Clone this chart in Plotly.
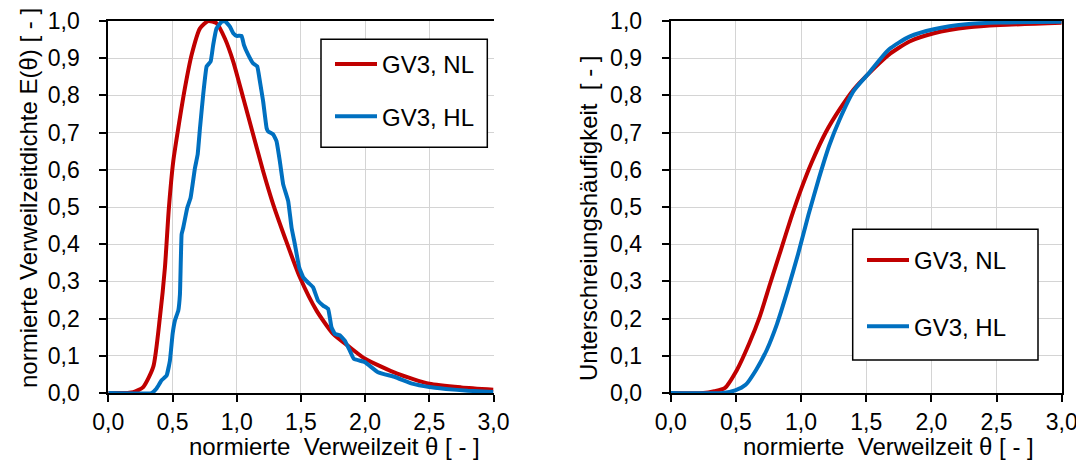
import plotly.graph_objects as go

# ---- data: left panel, residence time density E(theta) ----
nl_e_theta = [0.0, 0.15, 0.195, 0.272, 0.35, 0.402, 0.441, 0.472, 0.506, 0.545, 0.597, 0.649, 0.714,
              0.778, 0.843, 0.908, 0.973, 1.051, 1.128, 1.206, 1.284, 1.375, 1.492, 1.622, 1.751,
              1.881, 2.0, 2.25, 2.5, 2.75, 3.0]
nl_e_val = [0.0, 0.0, 0.002, 0.016, 0.07, 0.2035, 0.337, 0.498, 0.623, 0.712, 0.82, 0.909, 0.98,
            1.0, 0.994, 0.953, 0.891, 0.793, 0.695, 0.596, 0.507, 0.418, 0.311, 0.2215, 0.159,
            0.123, 0.092, 0.052, 0.025, 0.015, 0.009]

hl_e_theta = [0.0, 0.337, 0.376, 0.415, 0.454, 0.480, 0.501, 0.519, 0.545, 0.558, 0.571, 0.584,
              0.615, 0.641, 0.675, 0.696, 0.714, 0.739, 0.766, 0.797, 0.817, 0.843, 0.882, 0.908,
              0.947, 0.973, 0.999, 1.038, 1.056, 1.090, 1.128, 1.160, 1.181, 1.206, 1.233, 1.245,
              1.284, 1.310, 1.336, 1.362, 1.401, 1.427, 1.453, 1.487, 1.518, 1.556, 1.595, 1.634,
              1.673, 1.712, 1.738, 1.764, 1.803, 1.842, 1.881, 1.912, 1.998, 2.1, 2.233, 2.367,
              2.5, 2.63, 2.8, 3.0]
hl_e_val = [0.0, 0.0, 0.012, 0.034, 0.047, 0.0875, 0.159, 0.195, 0.2215, 0.266, 0.427, 0.445,
            0.498, 0.525, 0.605, 0.641, 0.712, 0.802, 0.878, 0.891, 0.936, 0.98, 0.998, 1.0,
            0.985, 0.967, 0.96, 0.96, 0.936, 0.909, 0.886, 0.878, 0.837, 0.784, 0.712, 0.703,
            0.695, 0.677, 0.623, 0.561, 0.516, 0.445, 0.40, 0.337, 0.311, 0.297, 0.284, 0.248,
            0.235, 0.226, 0.177, 0.159, 0.155, 0.141, 0.114, 0.092, 0.083, 0.056, 0.043, 0.025,
            0.016, 0.011, 0.006, 0.003]

# ---- data: right panel, cumulative distribution F(theta) ----
nl_f_theta = [0.0, 0.25, 0.335, 0.414, 0.508, 0.602, 0.682, 0.762, 0.842, 0.923, 1.003, 1.083,
              1.19, 1.297, 1.404, 1.511, 1.672, 1.832, 2.019, 2.287, 2.527, 3.0]
nl_f_val = [0.0, 0.0, 0.005, 0.013, 0.062, 0.133, 0.204, 0.293, 0.381, 0.47, 0.55, 0.621,
            0.701, 0.763, 0.816, 0.856, 0.909, 0.945, 0.967, 0.983, 0.989, 0.995]

hl_f_theta = [0.0, 0.40, 0.495, 0.575, 0.655, 0.736, 0.816, 0.896, 0.977, 1.057, 1.137, 1.217,
              1.297, 1.404, 1.511, 1.672, 1.832, 2.019, 2.287, 2.527, 3.0]
hl_f_val = [0.0, 0.0, 0.007, 0.022, 0.062, 0.115, 0.186, 0.275, 0.373, 0.479, 0.577, 0.666,
            0.736, 0.812, 0.856, 0.923, 0.958, 0.978, 0.992, 0.996, 0.998]

series_names = ["GV3, NL", "GV3, HL"]
x_ticks = [0.0, 0.5, 1.0, 1.5, 2.0, 2.5, 3.0]
y_ticks = [0.0, 0.1, 0.2, 0.3, 0.4, 0.5, 0.6, 0.7, 0.8, 0.9, 1.0]
x_title = "normierte  Verweilzeit θ [ - ]"
y_title_left = "normierte Verweilzeitdichte E(θ) [ - ]"
y_title_right = "Unterschreiungshäufigkeit  [ - ]"

RED = "#C00000"
BLUE = "#0070C0"
FONT = "Liberation Sans, Arial, sans-serif"
FS_TICK = 23
FS = 24
# the page body has an 8px margin, so the figure is sized to fit the window
OFF = 8
W, H = 1076, 452

fig = go.Figure()
fig.add_trace(go.Scatter(x=nl_e_theta, y=nl_e_val, mode="lines", name=series_names[0],
                         line=dict(color=RED, width=4, shape="spline", smoothing=0.6),
                         xaxis="x", yaxis="y", legend="legend", legendgroup="a"))
fig.add_trace(go.Scatter(x=hl_e_theta, y=hl_e_val, mode="lines", name=series_names[1],
                         line=dict(color=BLUE, width=4, shape="spline", smoothing=0.3),
                         xaxis="x", yaxis="y", legend="legend", legendgroup="b"))
fig.add_trace(go.Scatter(x=nl_f_theta, y=nl_f_val, mode="lines", name=series_names[0],
                         line=dict(color=RED, width=4, shape="spline", smoothing=0.6),
                         xaxis="x2", yaxis="y2", legend="legend2", legendgroup="c"))
fig.add_trace(go.Scatter(x=hl_f_theta, y=hl_f_val, mode="lines", name=series_names[1],
                         line=dict(color=BLUE, width=4, shape="spline", smoothing=0.6),
                         xaxis="x2", yaxis="y2", legend="legend2", legendgroup="d"))

def px_x(p):
    return (p - OFF) / W

def px_y(p):
    return 1 - (p - OFF) / H

y_dom = [px_y(393.0), px_y(21.0)]
axis_common = dict(showgrid=True, gridcolor="#D4D4D4", gridwidth=1, showline=True,
                   linecolor="black", linewidth=2, ticks="outside", ticklen=7, tickwidth=1.5,
                   tickcolor="black", zeroline=False, automargin=False,
                   ticklabeloverflow="allow",
                   tickfont=dict(family=FONT, size=FS_TICK, color="black"),
                   tickformat=".1f")

fig.update_layout(
    template="none",
    width=W, height=H, margin=dict(l=0, r=0, t=0, b=0, pad=0, autoexpand=False),
    paper_bgcolor="white", plot_bgcolor="white",
    separators=",.",
    font=dict(family=FONT, size=FS, color="black"),
    showlegend=True,
    xaxis=dict(domain=[px_x(108.3), px_x(493.5)], range=[0, 3], tickvals=x_ticks, anchor="y",
               mirror=True, **axis_common),
    yaxis=dict(domain=y_dom, range=[0, 1], tickvals=y_ticks, anchor="x", mirror=False,
               ticklabelstandoff=15, **axis_common),
    xaxis2=dict(domain=[px_x(670.7), px_x(1061.7)], range=[0, 3], tickvals=x_ticks, anchor="y2",
                mirror=True, **axis_common),
    yaxis2=dict(domain=y_dom, range=[0, 1], tickvals=y_ticks, anchor="x2", mirror=True,
                ticklabelstandoff=15, **axis_common),
    legend=dict(x=px_x(330), y=px_y(42), xanchor="left", yanchor="top",
                bgcolor="rgba(0,0,0,0)", borderwidth=0, tracegroupgap=18,
                font=dict(family=FONT, size=FS, color="black"), itemwidth=42),
    legend2=dict(x=px_x(862), y=px_y(238), xanchor="left", yanchor="top",
                 bgcolor="rgba(0,0,0,0)", borderwidth=0, tracegroupgap=32,
                 font=dict(family=FONT, size=FS, color="black"), itemwidth=42),
    shapes=[
        dict(type="rect", xref="paper", yref="paper", x0=px_x(321), x1=px_x(487.3),
             y0=px_y(147.3), y1=px_y(39.3), line=dict(color="black", width=1.5),
             fillcolor="white", layer="above"),
        dict(type="rect", xref="paper", yref="paper", x0=px_x(852.7), x1=px_x(1038),
             y0=px_y(360), y1=px_y(229.3), line=dict(color="black", width=1.5),
             fillcolor="white", layer="above"),
    ],
    annotations=[
        dict(text=x_title, xref="paper", yref="paper", x=px_x(334), y=px_y(446),
             xanchor="center", yanchor="middle", showarrow=False, font=dict(size=FS)),
        dict(text=x_title, xref="paper", yref="paper", x=px_x(888), y=px_y(446),
             xanchor="center", yanchor="middle", showarrow=False, font=dict(size=FS)),
        dict(text=y_title_left, xref="paper", yref="paper", x=px_x(28), y=px_y(198),
             xanchor="center", yanchor="middle", textangle=-90, showarrow=False, font=dict(size=FS)),
        dict(text=y_title_right, xref="paper", yref="paper", x=px_x(589), y=px_y(218),
             xanchor="center", yanchor="middle", textangle=-90, showarrow=False, font=dict(size=FS)),
    ],
)

fig.write_html("out.html")
